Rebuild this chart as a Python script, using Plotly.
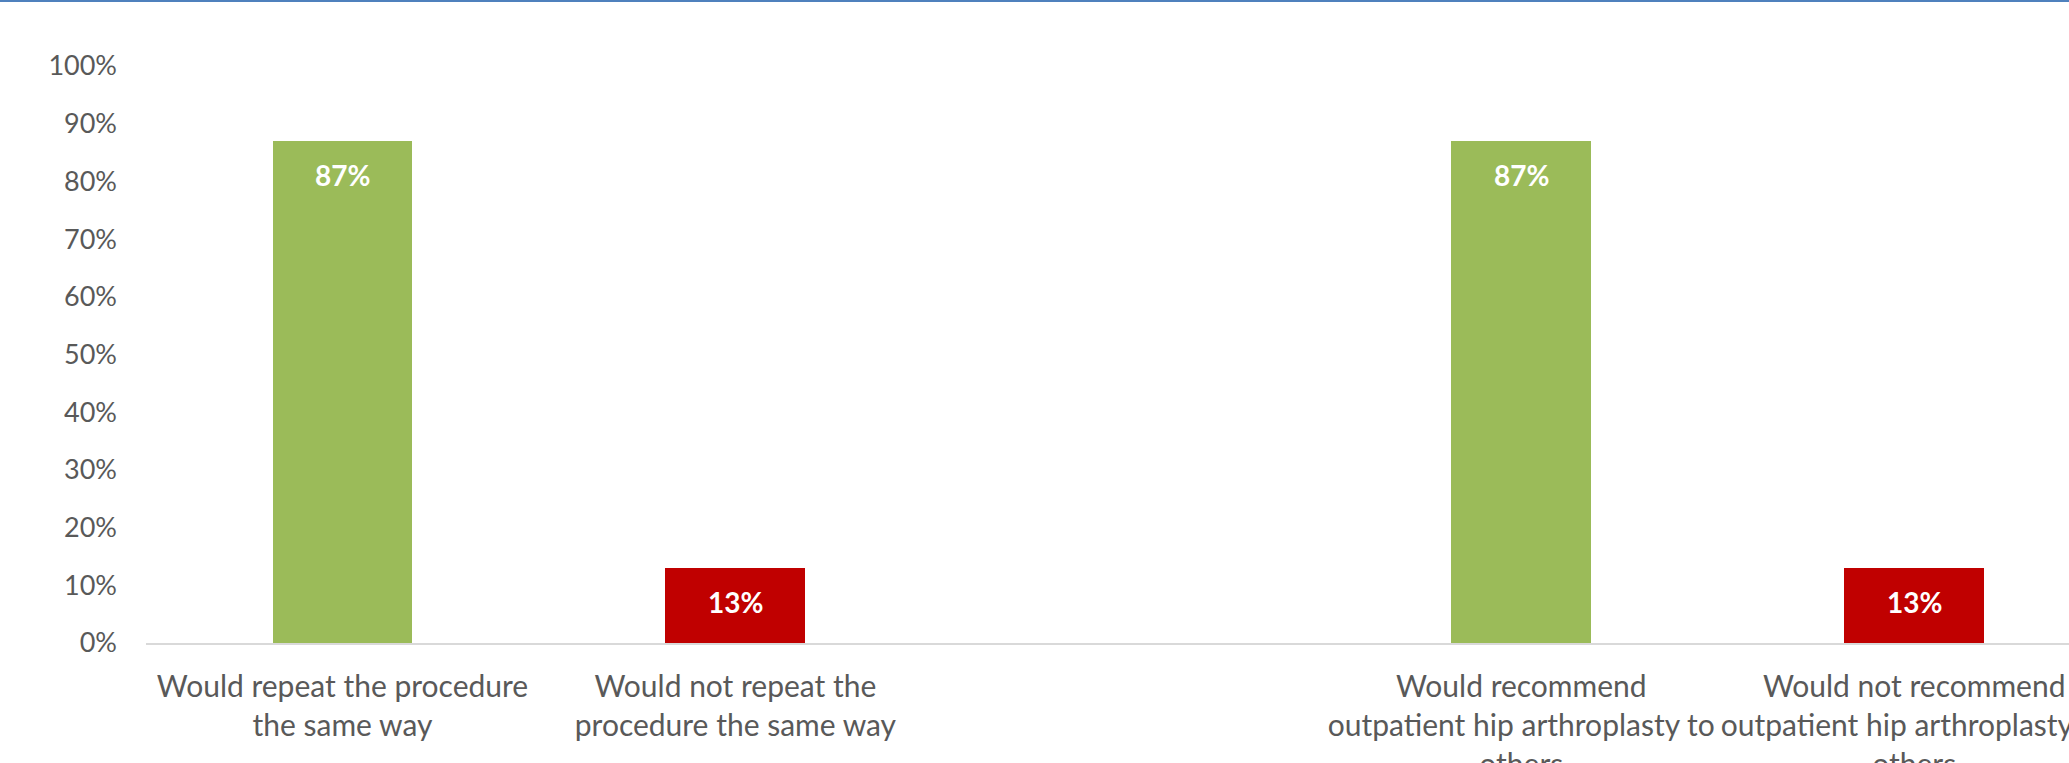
import plotly.graph_objects as go

categories = [
    "Would repeat the procedure<br>the same way",
    "Would not repeat the<br>procedure the same way",
    "Would recommend<br>outpatient hip arthroplasty to<br>others",
    "Would not recommend<br>outpatient hip arthroplasty to<br>others",
]
positions = [0, 1, 3, 4]
values = [87, 13, 87, 13]
colors = ["#9BBB59", "#C00000", "#9BBB59", "#C00000"]
y_ticks = [0, 10, 20, 30, 40, 50, 60, 70, 80, 90, 100]
y_tick_labels = [f"{v}%" for v in y_ticks]

W, H = 2069, 763
ML, MR, MT, MB = 146, 0, 66, 120

fig = go.Figure()
fig.add_trace(go.Bar(
    x=positions, y=values, width=0.356,
    marker=dict(color=colors, line=dict(width=0)),
    hoverinfo="skip",
))

for xp, v in zip(positions, values):
    fig.add_annotation(
        x=xp, y=v, xref="x", yref="y", text=f"<b>{v}%</b>",
        showarrow=False, yshift=-34, yanchor="middle",
        font=dict(family="Lato", size=28, color="white"),
    )

# thin blue line at the very top of the chart area
fig.add_shape(
    type="rect", xref="paper", yref="paper",
    xsizemode="pixel", ysizemode="pixel", xanchor=0, yanchor=1,
    x0=-ML, x1=W, y0=MT - 2, y1=MT + 1,
    fillcolor="#4F81BD", line=dict(width=0), layer="above",
)

fig.update_layout(
    width=W, height=H,
    margin=dict(l=ML, r=MR, t=MT, b=MB, pad=0, autoexpand=False),
    plot_bgcolor="white", paper_bgcolor="white",
    showlegend=False,
    font=dict(family="Lato", color="#595959"),
    bargap=0,
)
fig.update_xaxes(
    range=[-0.5, 4.394], tickvals=positions, ticktext=categories,
    tickangle=0, showgrid=False, zeroline=False,
    showline=True, linecolor="#D9D9D9", linewidth=2,
    ticks="", tickfont=dict(family="Lato", size=30, color="#595959"),
    ticklabelstandoff=16, automargin=False, ticklabeloverflow="allow",
)
fig.update_yaxes(
    range=[0, 100], tickvals=y_ticks, ticktext=y_tick_labels,
    showgrid=False, zeroline=False, showline=False, ticks="",
    tickfont=dict(family="Lato", size=27, color="#595959"),
    ticklabelstandoff=28, automargin=False,
)

fig.write_html(
    "out.html",
    config={"displayModeBar": False},
    post_script="document.body.style.margin='0';document.body.style.overflow='hidden';",
)
